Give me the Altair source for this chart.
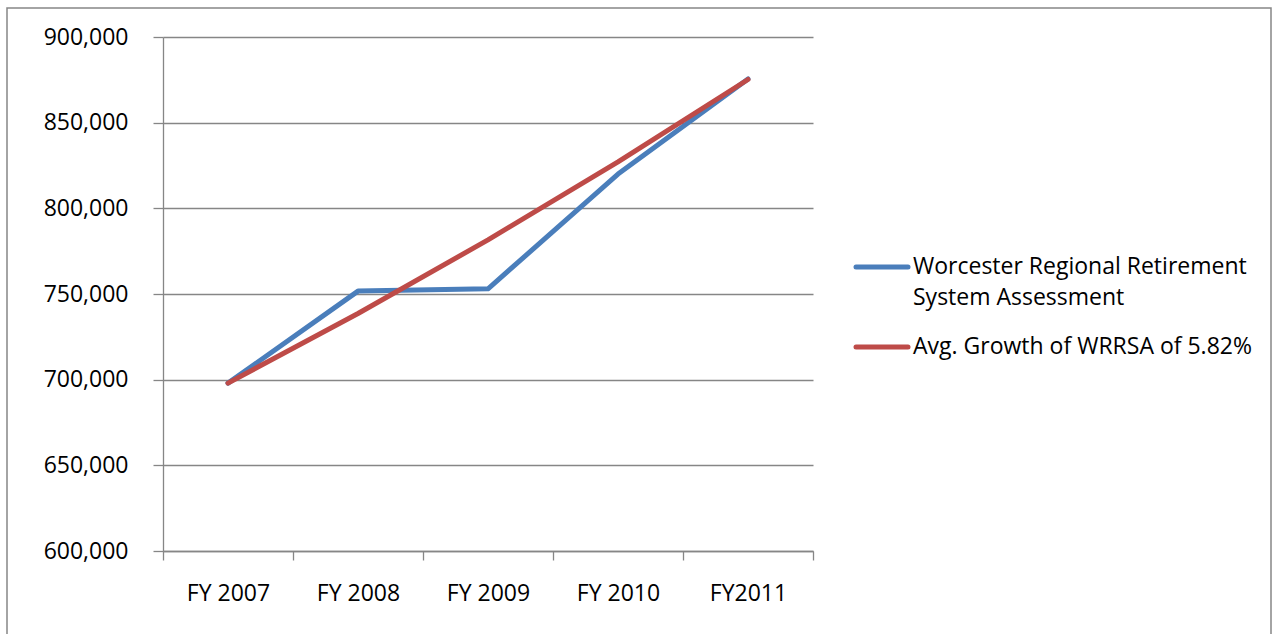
import altair as alt
import pandas as pd

# Fiscal years and the two series plotted against them
years = ["FY 2007", "FY 2008", "FY 2009", "FY 2010", "FY2011"]
assessment = [698000, 751700, 753000, 820000, 875500]
avg_growth = [698000, 738600, 781600, 827100, 875200]
series_names = [
    "Worcester Regional Retirement System Assessment",
    "Avg. Growth of WRRSA of 5.82%",
]
legend_lines = [
    ["Worcester Regional Retirement", "System Assessment"],
    ["Avg. Growth of WRRSA of 5.82%"],
]
series_colors = ["#4A7EBB", "#BE4B48"]
y_ticks = [600000, 650000, 700000, 750000, 800000, 850000, 900000]

rows = []
for order, (name, vals) in enumerate(zip(series_names, [assessment, avg_growth])):
    for yr, v in zip(years, vals):
        rows.append({"year": yr, "value": v, "series": name, "ord": order})
df = pd.DataFrame(rows)

FONT = "Open Sans"
GREY = "#868686"

lines = alt.Chart(df).mark_line(
    strokeWidth=5, strokeCap="round", strokeJoin="round"
).encode(
    x=alt.X(
        "year:N",
        sort=years,
        scale=alt.Scale(type="band", paddingInner=0, paddingOuter=0),
        axis=alt.Axis(
            title=None, labelAngle=0, tickBand="extent", grid=False,
            domainColor=GREY, domainWidth=1.3, tickColor=GREY, tickWidth=1.3,
            tickSize=9, labelPadding=22, labelFont=FONT, labelFontSize=23,
            labelColor="#000000",
        ),
    ),
    y=alt.Y(
        "value:Q",
        scale=alt.Scale(domain=[600000, 900000], nice=False, zero=False),
        axis=alt.Axis(
            title=None, values=y_ticks, format=",d", grid=True, gridColor=GREY,
            gridWidth=1.3, domainColor=GREY, domainWidth=1.3, tickColor=GREY,
            tickWidth=1.3, tickSize=10, labelPadding=25, labelFont=FONT,
            labelFontSize=23, labelColor="#000000",
        ),
    ),
    color=alt.Color(
        "series:N",
        sort=series_names,
        scale=alt.Scale(domain=series_names, range=series_colors),
        legend=None,
    ),
    order=alt.Order("ord:Q"),
)

# Legend: a short stroke swatch and its label for each series
legend_layers = []
for i, (name, color, text) in enumerate(zip(series_names, series_colors, legend_lines)):
    row_y = 230 + i * 80
    entry = pd.DataFrame({"series": [name]})
    legend_layers.append(
        alt.Chart(entry).mark_rule(strokeWidth=5, strokeCap="round", color=color).encode(
            x=alt.value(693), x2=alt.value(745), y=alt.value(row_y)
        )
    )
    legend_layers.append(
        alt.Chart(entry).mark_text(
            align="left", baseline="middle", font=FONT, fontSize=23,
            lineHeight=31, color="#000000",
        ).encode(
            x=alt.value(750),
            y=alt.value(row_y),
            text=alt.value(text),
        )
    )

# Outer frame around the whole chart
frame = alt.Chart(pd.DataFrame({"f": [0]})).mark_rect(
    filled=False, stroke=GREY, strokeWidth=1.5
).encode(
    x=alt.value(-156), x2=alt.value(1108), y=alt.value(-29), y2=alt.value(660)
)

chart = alt.layer(frame, lines, *legend_layers).properties(
    width=650,
    height=514,
    autosize=alt.AutoSizeParams(type="none"),
    padding={"left": 163, "top": 37, "right": 459, "bottom": 83},
    background="white",
).configure_view(stroke=None)

chart.save("out.html", embed_options={"renderer": "svg", "actions": False})
